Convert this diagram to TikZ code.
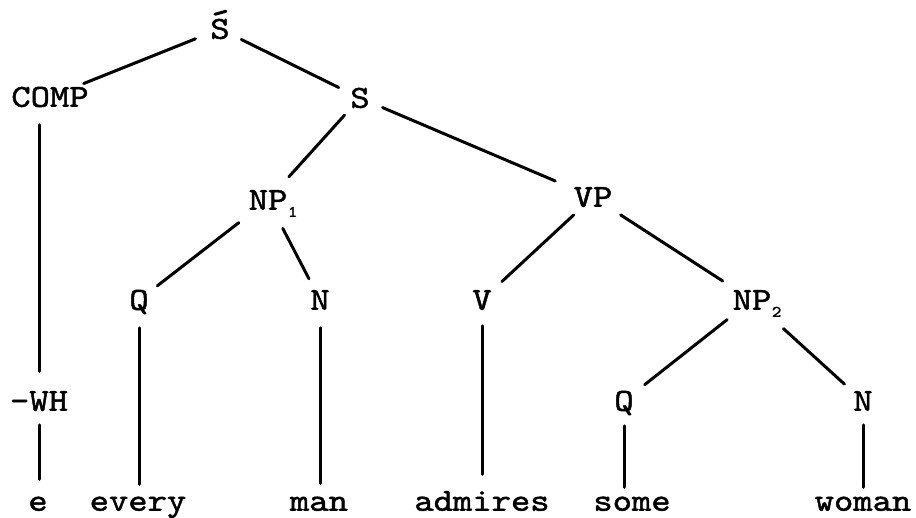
\documentclass[tikz,border=0pt]{standalone}
\usepackage{fontspec}
\newfontfamily\tw{lmmono10-regular}[Extension=.otf,FakeStretch=1.15,FakeBold=1.5]
\newcommand{\subidx}[1]{\rlap{\hspace{0.5pt}\raisebox{-7pt}{\fontsize{16}{16}\selectfont #1}}}
\begin{document}
\begin{tikzpicture}[x=1pt,y=1pt,
  lbl/.style={inner sep=0pt, outer sep=0pt, text height=19.5pt, text depth=0pt,
              font=\tw\fontsize{32}{32}\selectfont},
  br/.style={line width=3pt, line cap=round},
  ]
\useasboundingbox (0,0) rectangle (916,-517);
% level 0
\node[lbl] (sbar) at (220,-29) {S};
% level 1
\node[lbl] (comp) at (50,-97) {COMP};
\node[lbl] (s) at (360,-98) {S};
% level 2
\node[lbl] (np1) at (268,-200) {NP\subidx{1}};
\node[lbl] (vp) at (593,-197) {VP};
% level 3
\node[lbl] (q1) at (139,-300) {Q};
\node[lbl] (n1) at (320,-300) {N};
\node[lbl] (v) at (482,-300) {V};
\node[lbl] (np2) at (752,-300) {NP\subidx{2}};
% level 4
\node[lbl] (wh) at (39,-401) {-WH};
\node[lbl] (q2) at (624,-401) {Q};
\node[lbl] (n2) at (863,-401) {N};
% words
\node[lbl] (e) at (38,-501) {e};
\node[lbl] (every) at (138,-501) {every};
\node[lbl] (man) at (319,-501) {man};
\node[lbl] (admires) at (482,-501) {admires};
\node[lbl] (some) at (632,-501) {some};
\node[lbl] (woman) at (863,-501) {woman};
% bar over S
\draw[br] ([xshift=-5pt,yshift=5pt]sbar.north) -- ([xshift=6pt,yshift=8pt]sbar.north);
% branches
\draw[br, shorten <=16pt, shorten >=10pt] (sbar) -- (comp);
\draw[br, shorten <=13pt, shorten >=13pt] (sbar) -- (s);
\draw[br, shorten <=10pt, shorten >=18pt] (s) -- (np1);
\draw[br, shorten <=14pt, shorten >=20pt] (s) -- (vp);
\draw[br, shorten <=21pt, shorten >=11pt] (np1) -- (q1);
\draw[br, shorten <=21pt, shorten >=13pt] (np1) -- (n1);
\draw[br, shorten <=12pt, shorten >=14pt] (vp) -- (v);
\draw[br, shorten <=15pt, shorten >=17pt] (vp) -- (np2);
\draw[br, shorten <=16pt, shorten >=14pt] (np2) -- (q2);
\draw[br, shorten <=28pt, shorten >=12pt] (np2) -- (n2);
% stems
\draw[br, shorten <=18pt, shorten >=20pt] (comp.south -| wh.north) -- (wh.north);
\draw[br, shorten <=14pt, shorten >=12pt] (wh.south) -- (wh.south |- e.north);
\draw[br, shorten <=18pt, shorten >=7pt] (q1.south) -- (q1.south |- every.north);
\draw[br, shorten <=18pt, shorten >=8pt] (n1.south) -- (n1.south |- man.north);
\draw[br, shorten <=16pt, shorten >=17pt] (v.south) -- (v.south |- admires.north);
\draw[br, shorten <=15pt, shorten >=4pt] (q2.south) -- (q2.south |- some.north);
\draw[br, shorten <=14pt, shorten >=4pt] (n2.south) -- (n2.south |- woman.north);
\end{tikzpicture}
\end{document}
